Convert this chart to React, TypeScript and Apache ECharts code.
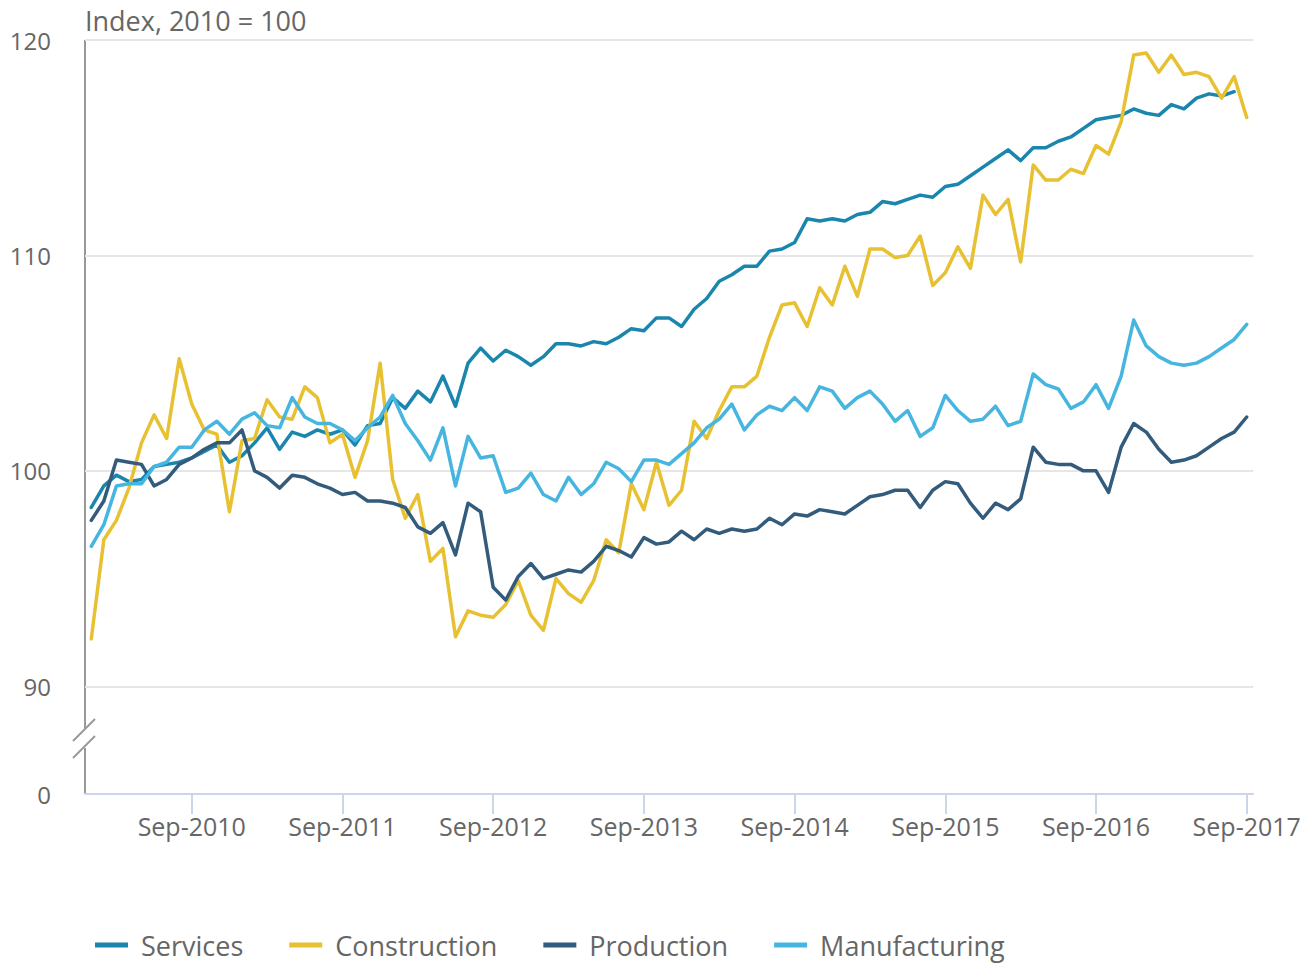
import React, { useEffect, useRef } from "react";
import * as echarts from "echarts";

const MONTHS = ["Jan", "Feb", "Mar", "Apr", "May", "Jun", "Jul", "Aug", "Sep", "Oct", "Nov", "Dec"];
const YEARS = [2010, 2011, 2012, 2013, 2014, 2015, 2016, 2017];
const LAST_LABEL = "Sep-2017";

const categories: string[] = [];
(() => {
  for (const y of YEARS) {
    for (const m of MONTHS) {
      const label = `${m}-${y}`;
      categories.push(label);
      if (label === LAST_LABEL) return;
    }
  }
})();

const services = [
  98.3, 99.3, 99.8, 99.5, 99.6, 100.2, 100.3, 100.4, 100.6, 100.9,
  101.2, 100.4, 100.7, 101.3, 102.0, 101.0, 101.8, 101.6, 101.9, 101.7,
  101.9, 101.2, 102.1, 102.2, 103.4, 102.9, 103.7, 103.2, 104.4, 103.0,
  105.0, 105.7, 105.1, 105.6, 105.3, 104.9, 105.3, 105.9, 105.9, 105.8,
  106.0, 105.9, 106.2, 106.6, 106.5, 107.1, 107.1, 106.7, 107.5, 108.0,
  108.8, 109.1, 109.5, 109.5, 110.2, 110.3, 110.6, 111.7, 111.6, 111.7,
  111.6, 111.9, 112.0, 112.5, 112.4, 112.6, 112.8, 112.7, 113.2, 113.3,
  113.7, 114.1, 114.5, 114.9, 114.4, 115.0, 115.0, 115.3, 115.5, 115.9,
  116.3, 116.4, 116.5, 116.8, 116.6, 116.5, 117.0, 116.8, 117.3, 117.5,
  117.4, 117.6, null,
];

const construction = [
  92.2, 96.8, 97.7, 99.2, 101.3, 102.6, 101.5, 105.2, 103.1, 101.9,
  101.7, 98.1, 101.4, 101.5, 103.3, 102.5, 102.4, 103.9, 103.4, 101.3,
  101.7, 99.7, 101.4, 105.0, 99.6, 97.8, 98.9, 95.8, 96.4, 92.3,
  93.5, 93.3, 93.2, 93.8, 94.9, 93.3, 92.6, 95.0, 94.3, 93.9,
  94.9, 96.8, 96.2, 99.4, 98.2, 100.4, 98.4, 99.1, 102.3, 101.5,
  102.8, 103.9, 103.9, 104.4, 106.2, 107.7, 107.8, 106.7, 108.5, 107.7,
  109.5, 108.1, 110.3, 110.3, 109.9, 110.0, 110.9, 108.6, 109.2, 110.4,
  109.4, 112.8, 111.9, 112.6, 109.7, 114.2, 113.5, 113.5, 114.0, 113.8,
  115.1, 114.7, 116.2, 119.3, 119.4, 118.5, 119.3, 118.4, 118.5, 118.3,
  117.3, 118.3, 116.4,
];

const production = [
  97.7, 98.6, 100.5, 100.4, 100.3, 99.3, 99.6, 100.3, 100.6, 101.0,
  101.3, 101.3, 101.9, 100.0, 99.7, 99.2, 99.8, 99.7, 99.4, 99.2,
  98.9, 99.0, 98.6, 98.6, 98.5, 98.3, 97.4, 97.1, 97.6, 96.1,
  98.5, 98.1, 94.6, 94.0, 95.1, 95.7, 95.0, 95.2, 95.4, 95.3,
  95.8, 96.5, 96.3, 96.0, 96.9, 96.6, 96.7, 97.2, 96.8, 97.3,
  97.1, 97.3, 97.2, 97.3, 97.8, 97.5, 98.0, 97.9, 98.2, 98.1,
  98.0, 98.4, 98.8, 98.9, 99.1, 99.1, 98.3, 99.1, 99.5, 99.4,
  98.5, 97.8, 98.5, 98.2, 98.7, 101.1, 100.4, 100.3, 100.3, 100.0,
  100.0, 99.0, 101.1, 102.2, 101.8, 101.0, 100.4, 100.5, 100.7, 101.1,
  101.5, 101.8, 102.5,
];

const manufacturing = [
  96.5, 97.5, 99.3, 99.4, 99.4, 100.2, 100.4, 101.1, 101.1, 101.9,
  102.3, 101.7, 102.4, 102.7, 102.1, 102.0, 103.4, 102.5, 102.2, 102.2,
  101.9, 101.4, 102.0, 102.5, 103.5, 102.2, 101.4, 100.5, 102.0, 99.3,
  101.6, 100.6, 100.7, 99.0, 99.2, 99.9, 98.9, 98.6, 99.7, 98.9,
  99.4, 100.4, 100.1, 99.5, 100.5, 100.5, 100.3, 100.8, 101.3, 102.0,
  102.4, 103.1, 101.9, 102.6, 103.0, 102.8, 103.4, 102.8, 103.9, 103.7,
  102.9, 103.4, 103.7, 103.1, 102.3, 102.8, 101.6, 102.0, 103.5, 102.8,
  102.3, 102.4, 103.0, 102.1, 102.3, 104.5, 104.0, 103.8, 102.9, 103.2,
  104.0, 102.9, 104.4, 107.0, 105.8, 105.3, 105.0, 104.9, 105.0, 105.3,
  105.7, 106.1, 106.8,
];

const SERIES_NAMES = ["Services", "Construction", "Production", "Manufacturing"];
const SERIES_DATA = [services, construction, production, manufacturing];
const COLORS = ["#1b86ad", "#e8c133", "#335b7c", "#46b6e0"];

const Y_MIN = 85; // shown as "0" (broken axis)
const Y_MAX = 120;
const Y_INTERVAL = 5;

const FONT = "'Open Sans', 'Noto Sans', sans-serif";
const TEXT_COLOR = "#666666";

export default function App() {
  const ref = useRef<HTMLDivElement>(null);

  useEffect(() => {
    if (!ref.current) return;
    const chart = echarts.init(ref.current, null, { renderer: "svg" });
    const axisGrey = "#999999";
    chart.setOption({
      animation: false,
      backgroundColor: "#ffffff",
      textStyle: { fontFamily: FONT },
      title: {
        text: "Index, 2010 = 100",
        left: 80,
        top: 2,
        textStyle: { fontFamily: FONT, fontSize: 27, fontWeight: "normal", color: TEXT_COLOR },
      },
      grid: { left: 85, right: 62, top: 40, bottom: 172, containLabel: false },
      legend: {
        data: SERIES_NAMES,
        left: 90,
        top: 927,
        padding: [3, 5, 3, 5],
        icon: "rect",
        itemWidth: 33,
        itemHeight: 5,
        itemGap: 46,
        textStyle: { fontFamily: FONT, fontSize: 27, lineHeight: 30, color: TEXT_COLOR, padding: [0, 0, 0, 8] },
      },
      xAxis: {
        type: "category",
        data: categories,
        boundaryGap: true,
        axisLine: { show: true, lineStyle: { color: "#ccd6eb", width: 2 } },
        axisTick: {
          show: true,
          alignWithLabel: true,
          length: 20,
          interval: (_i: number, v: string) => v.startsWith("Sep"),
          lineStyle: { color: "#ccd6eb", width: 2 },
        },
        axisLabel: {
          interval: (_i: number, v: string) => v.startsWith("Sep"),
          margin: 19,
          fontFamily: FONT,
          fontSize: 25,
          color: TEXT_COLOR,
        },
        splitLine: { show: false },
      },
      yAxis: {
        type: "value",
        min: Y_MIN,
        max: Y_MAX,
        interval: Y_INTERVAL,
        axisLine: { show: false },
        axisTick: { show: false },
        axisLabel: {
          margin: 34,
          fontFamily: FONT,
          fontSize: 24,
          color: TEXT_COLOR,
          formatter: (v: number) => (v === Y_MIN ? "0" : v % 10 === 0 ? String(v) : ""),
        },
        splitLine: {
          show: true,
          lineStyle: { color: ["rgba(0,0,0,0)", "#e6e6e6"], width: 2 },
        },
      },
      graphic: [
        { type: "line", shape: { x1: 85, y1: 40, x2: 85, y2: 729 }, style: { stroke: axisGrey, lineWidth: 2 } },
        { type: "line", shape: { x1: 85, y1: 748, x2: 85, y2: 794 }, style: { stroke: axisGrey, lineWidth: 2 } },
        { type: "line", shape: { x1: 73, y1: 741, x2: 95, y2: 719 }, style: { stroke: axisGrey, lineWidth: 2 } },
        { type: "line", shape: { x1: 73, y1: 758, x2: 95, y2: 736 }, style: { stroke: axisGrey, lineWidth: 2 } },
      ],
      series: SERIES_NAMES.map((name, i) => ({
        name,
        type: "line",
        data: SERIES_DATA[i],
        showSymbol: false,
        symbol: "none",
        connectNulls: false,
        color: COLORS[i],
        lineStyle: { color: COLORS[i], width: 3.5, join: "round", cap: "round" },
        emphasis: { disabled: true },
      })),
    });
    return () => chart.dispose();
  }, []);

  return (
    <div
      ref={ref}
      style={{ position: "absolute", left: 0, top: 0, width: 1315, height: 966 }}
    />
  );
}
